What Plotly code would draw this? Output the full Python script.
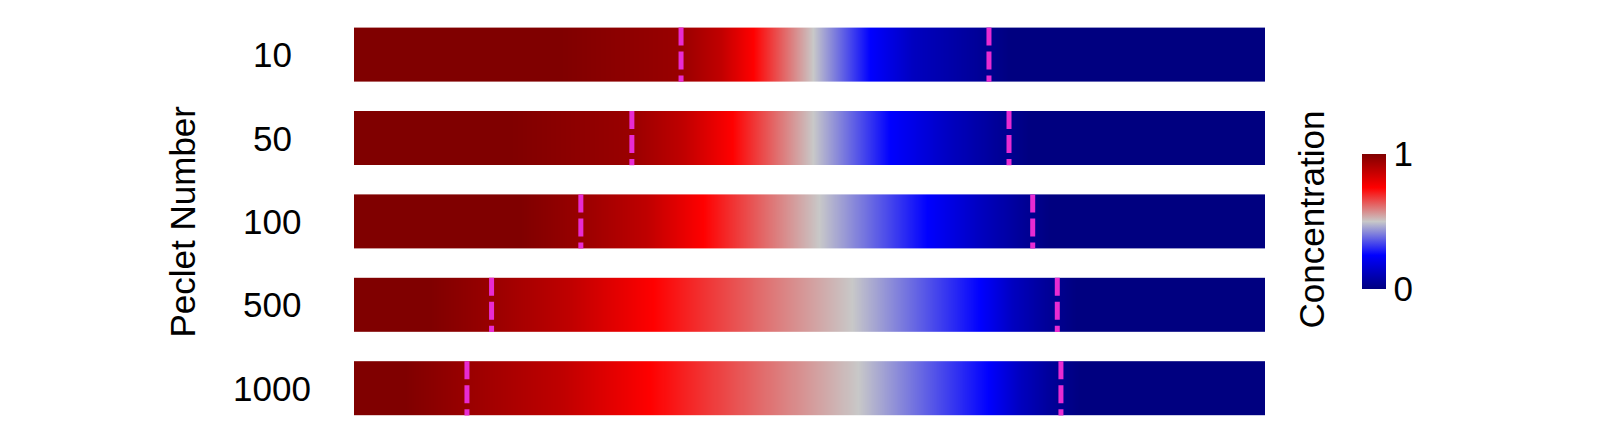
import plotly.graph_objects as go

# Peclet numbers (one bar each, top to bottom)
peclet = ["10", "50", "100", "500", "1000"]

# concentration levels sampled along each bar
conc = [1, 1, 0.95, 0.875, 0.75, 0.5, 0.25, 0.125, 0.05, 0, 0]

# position (0 = inlet side, 1 = outlet side) where each level is reached
pos_10 = [0, 0.226, 0.359, 0.402, 0.438, 0.504, 0.566, 0.614, 0.682, 0.720, 1]
pos_50 = [0, 0.171, 0.305, 0.361, 0.415, 0.504, 0.588, 0.654, 0.704, 0.742, 1]
pos_100 = [0, 0.182, 0.249, 0.322, 0.383, 0.510, 0.629, 0.687, 0.731, 0.764, 1]
pos_500 = [0, 0.083, 0.151, 0.237, 0.328, 0.547, 0.687, 0.723, 0.759, 0.792, 1]
pos_1000 = [0, 0.056, 0.124, 0.229, 0.325, 0.553, 0.696, 0.731, 0.764, 0.797, 1]
positions = [pos_10, pos_50, pos_100, pos_500, pos_1000]

# mixing-zone boundaries (dashed lines)
front_left = [0.359, 0.305, 0.249, 0.151, 0.124]
front_right = [0.697, 0.719, 0.745, 0.772, 0.776]

cscale = [[0, "#000080"], [0.25, "#0000ff"], [0.5, "#c8c8c8"],
          [0.75, "#ff0000"], [1, "#800000"]]
half = 0.325
font = "Arial, Liberation Sans, sans-serif"
fsize = 35

fig = go.Figure()

for i, pe in enumerate(peclet):
    fig.add_trace(go.Heatmap(
        x=positions[i], y=[i - half, i, i + half], z=[conc, conc],
        coloraxis="coloraxis", zsmooth="best", hoverinfo="skip"))

for i, pe in enumerate(peclet):
    for xd in (front_left[i], front_right[i]):
        fig.add_trace(go.Scatter(
            x=[xd, xd], y=[i - half, i + half], mode="lines",
            line=dict(color="#e82bd2", width=5, dash="18px,6px"),
            showlegend=False, hoverinfo="skip"))

annotations = []
for i, pe in enumerate(peclet):
    annotations.append(dict(
        text=pe, xref="paper", x=0, xshift=-82, xanchor="center",
        yref="y", y=i, yanchor="middle", showarrow=False,
        font=dict(size=fsize, color="black", family=font)))
annotations.append(dict(
    text="Peclet Number", textangle=-90, xref="paper", x=0, xshift=-172,
    xanchor="center", yref="y", y=2, yanchor="middle", showarrow=False,
    font=dict(size=fsize, color="black", family=font)))
annotations.append(dict(
    text="Concentration", textangle=-90, xref="paper", x=1.0505,
    xanchor="center", yref="paper", y=0.505, yanchor="middle", showarrow=False,
    font=dict(size=fsize, color="black", family=font)))

fig.update_layout(
    width=1600, height=433,
    margin=dict(l=346, r=343, t=5, b=11),
    plot_bgcolor="white", paper_bgcolor="white",
    showlegend=False,
    font=dict(family=font, size=fsize, color="black"),
    coloraxis=dict(
        colorscale=cscale, cmin=0, cmax=1,
        colorbar=dict(
            x=1.1065, xanchor="left", xpad=0, y=0.5, yanchor="middle", ypad=0,
            thickness=24, len=135, lenmode="pixels", outlinewidth=0,
            tickvals=[0, 1], ticktext=["0", "1"], ticks="",
            tickfont=dict(size=fsize, color="black", family=font))),
    annotations=annotations,
)
fig.update_xaxes(range=[0, 1], visible=False, showgrid=False, zeroline=False)
fig.update_yaxes(range=[4.5, -0.5], visible=False, showgrid=False, zeroline=False)

fig.write_html("out.html")
